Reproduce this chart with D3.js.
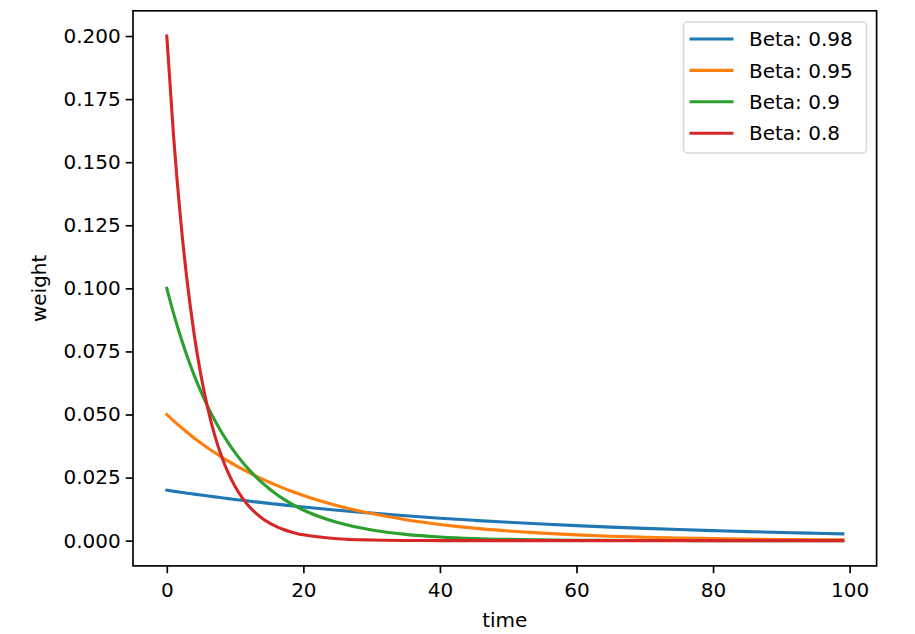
<!DOCTYPE html>
<html>
<head>
<meta charset="utf-8">
<script src="https://cdn.jsdelivr.net/npm/d3@7"></script>
<style>
  html, body { margin: 0; padding: 0; background: #fff; }
  svg { display: block; font-family: "DejaVu Sans", sans-serif; }
</style>
</head>
<body>
<svg id="chart" width="915" height="634"></svg>
<script>
// ---- data ----
const time = [0,1,2,3,4,5,6,7,8,9,10,11,12,13,14,15,16,17,18,19,20,25,30,35,40,45,50,55,60,65,70,75,80,85,90,95,99];
const seriesNames = ["Beta: 0.98", "Beta: 0.95", "Beta: 0.9", "Beta: 0.8"];
const beta098 = [0.02,0.0196,0.01921,0.01882,0.01845,0.01808,0.01772,0.01736,0.01702,0.01667,0.01634,0.01601,0.01569,0.01538,0.01507,0.01477,0.01448,0.01419,0.0139,0.01362,0.01335,0.01207,0.01091,0.00986,0.00891,0.00806,0.00728,0.00658,0.00595,0.00538,0.00486,0.0044,0.00397,0.00359,0.00325,0.00293,0.00271];
const beta095 = [0.05,0.0475,0.04513,0.04287,0.04073,0.03869,0.03675,0.03492,0.03317,0.03151,0.02994,0.02844,0.02702,0.02567,0.02438,0.02316,0.02201,0.02091,0.01986,0.01887,0.01792,0.01387,0.01073,0.0083,0.00643,0.00497,0.00385,0.00298,0.0023,0.00178,0.00138,0.00107,0.00083,0.00064,0.00049,0.00038,0.00031];
const beta090 = [0.1,0.09,0.081,0.0729,0.06561,0.05905,0.05314,0.04783,0.04305,0.03874,0.03487,0.03138,0.02824,0.02542,0.02288,0.02059,0.01853,0.01668,0.01501,0.01351,0.01216,0.00718,0.00424,0.0025,0.00148,0.00087,0.00052,0.0003,0.00018,0.00011,0.00006,0.00004,0.00002,0.00001,0.00001,0,0];
const beta080 = [0.2,0.16,0.128,0.1024,0.08192,0.06554,0.05243,0.04194,0.03355,0.02684,0.02147,0.01718,0.01374,0.011,0.0088,0.00704,0.00563,0.0045,0.0036,0.00288,0.00231,0.00076,0.00025,0.00008,0.00003,0.00001,0,0,0,0,0,0,0,0,0,0,0];
const xTicks = [0,20,40,60,80,100];
const yTicks = [0,0.025,0.05,0.075,0.1,0.125,0.15,0.175,0.2];
const colors = ["#1f77b4", "#ff7f0e", "#2ca02c", "#d62728"];

const allSeries = [beta098, beta095, beta090, beta080];

const svg = d3.select("#chart");
const L = 133, R = 876.6, T = 10.8, B = 565.9;

const x = d3.scaleLinear().domain([-4.95, 103.95]).range([L, R]);
const y = d3.scaleLinear().domain([-0.01, 0.21]).range([B, T]);

const fontSize = 20;

// lines
const line = d3.line()
  .x((d, i) => x(time[i]))
  .y(d => y(d))
  .curve(d3.curveMonotoneX);

const plot = svg.append("g");
allSeries.forEach((s, k) => {
  plot.append("path")
    .attr("d", line(s))
    .attr("fill", "none")
    .attr("stroke", colors[k])
    .attr("stroke-width", 3.1)
    .attr("stroke-linecap", "square")
    .attr("stroke-linejoin", "round");
});

// axes
const xAxis = d3.axisBottom(x).tickValues(xTicks).tickSize(7.3).tickPadding(5).tickFormat(d3.format("d"));
const yAxis = d3.axisLeft(y).tickValues(yTicks).tickSize(7.3).tickPadding(5).tickFormat(d3.format(".3f"));

const gx = svg.append("g").attr("transform", `translate(0,${B})`).call(xAxis);
const gy = svg.append("g").attr("transform", `translate(${L},0)`).call(yAxis);
[gx, gy].forEach(g => {
  g.select(".domain").remove();
  g.selectAll(".tick line").attr("stroke", "#000").attr("stroke-width", 1.67);
  g.selectAll(".tick text").attr("fill", "#000").style("font-size", fontSize + "px").style("font-family", "DejaVu Sans");
});
gx.selectAll(".tick text").attr("dy", "0.95em");

// frame
svg.append("rect")
  .attr("x", L).attr("y", T).attr("width", R - L).attr("height", B - T)
  .attr("fill", "none").attr("stroke", "#000").attr("stroke-width", 1.67);

// axis labels
svg.append("text").attr("x", (L + R) / 2).attr("y", 627)
  .attr("text-anchor", "middle").style("font-size", fontSize + "px").text("time");
svg.append("text")
  .attr("transform", `translate(46,${(T + B) / 2}) rotate(-90)`)
  .attr("text-anchor", "middle").style("font-size", fontSize + "px").text("weight");

// legend
const lg = svg.append("g");
lg.append("rect")
  .attr("x", 683.5).attr("y", 22).attr("width", 183).attr("height", 131)
  .attr("rx", 4).attr("fill", "#fff").attr("fill-opacity", 0.8)
  .attr("stroke", "#d9d9d9").attr("stroke-width", 1.5);
seriesNames.forEach((name, k) => {
  const cy = 39 + k * 31.4;
  lg.append("line").attr("x1", 689.5).attr("x2", 733.5).attr("y1", cy).attr("y2", cy)
    .attr("stroke", colors[k]).attr("stroke-width", 3.1);
  lg.append("text").attr("x", 749).attr("y", cy).attr("dy", "0.36em")
    .style("font-size", fontSize + "px").attr("fill", "#000").text(name);
});
</script>
</body>
</html>
